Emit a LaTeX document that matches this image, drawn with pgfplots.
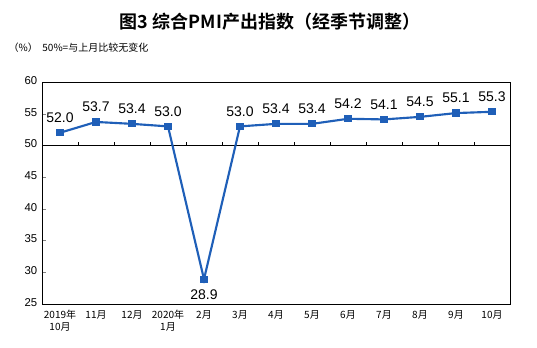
\documentclass[border=0pt]{standalone}
\usepackage{pgfplots}
\pgfplotsset{compat=1.18}
\usepackage{fontspec}
\setmainfont{Liberation Sans}
\newfontfamily\cjk{Noto Sans CJK SC}
\newfontfamily\cjkb{Noto Sans CJK SC Bold}
\definecolor{pmiblue}{HTML}{1F5FB8}
\begin{document}
\begin{tikzpicture}
\begin{scope}[x=0.75pt,y=0.75pt]
\path[use as bounding box] (0,0) rectangle (537,348);
\node[font=\cjkb\fontsize{13.5}{14}\selectfont] at (270,326) {图3 综合PMI产出指数（经季节调整）};
\node[font=\cjk\fontsize{7.5}{8}\selectfont, anchor=west] at (4,300) {（\%）\ \ 50\%=与上月比较无变化};
\end{scope}
\begin{axis}[
  at={(31.5pt,33pt)}, anchor=south west,
  scale only axis, width=351pt, height=166.5pt,
  xmin=-0.5, xmax=12.5, ymin=25, ymax=60,
  axis line style={black, line width=0.6pt},
  xtick={0,...,12},
  xticklabels={{2019年\\10月},11月,12月,{2020年\\1月},2月,3月,4月,5月,6月,7月,8月,9月,10月},
  xticklabel style={font=\cjk\fontsize{7.5}{9}\selectfont, align=center, anchor=north, yshift=-1pt},
  typeset ticklabels with strut,
  major x tick style={draw=none},
  ytick={25,30,...,60},
  ytick pos=left,
  ytick align=inside,
  major tick length=3pt,
  yticklabel style={font=\fontsize{8.5}{9}\selectfont},
  /pgf/number format/assume math mode=true,
  clip=false,
]
\draw[black, line width=0.6pt] (axis cs:-0.5,50) -- (axis cs:12.5,50);
\pgfplotsinvokeforeach{0.5,1.5,2.5,3.5,4.5,5.5,6.5,7.5,8.5,9.5,10.5,11.5}{
  \draw[black, line width=0.5pt] (axis cs:#1,50) -- (axis cs:#1,50.6);
}
\addplot[pmiblue, line width=1.6pt, mark=square*, mark size=1.9pt,
  nodes near coords, point meta=explicit symbolic,
  every node near coord/.style={font=\fontsize{10.5}{11}\selectfont, black, anchor=south, yshift=3.5pt},
] table[meta=lab] {
x y lab
0 52.0 52.0
1 53.7 53.7
2 53.4 53.4
3 53.0 53.0
4 28.9 {}
5 53.0 53.0
6 53.4 53.4
7 53.4 53.4
8 54.2 54.2
9 54.1 54.1
10 54.5 54.5
11 55.1 55.1
12 55.3 55.3
};
\addplot[draw=none, mark=none, nodes near coords, point meta=explicit symbolic,
  every node near coord/.style={font=\fontsize{10.5}{11}\selectfont, black, anchor=north, yshift=-4pt}]
  coordinates {(4,28.9)[28.9]};
\end{axis}
\end{tikzpicture}
\end{document}
